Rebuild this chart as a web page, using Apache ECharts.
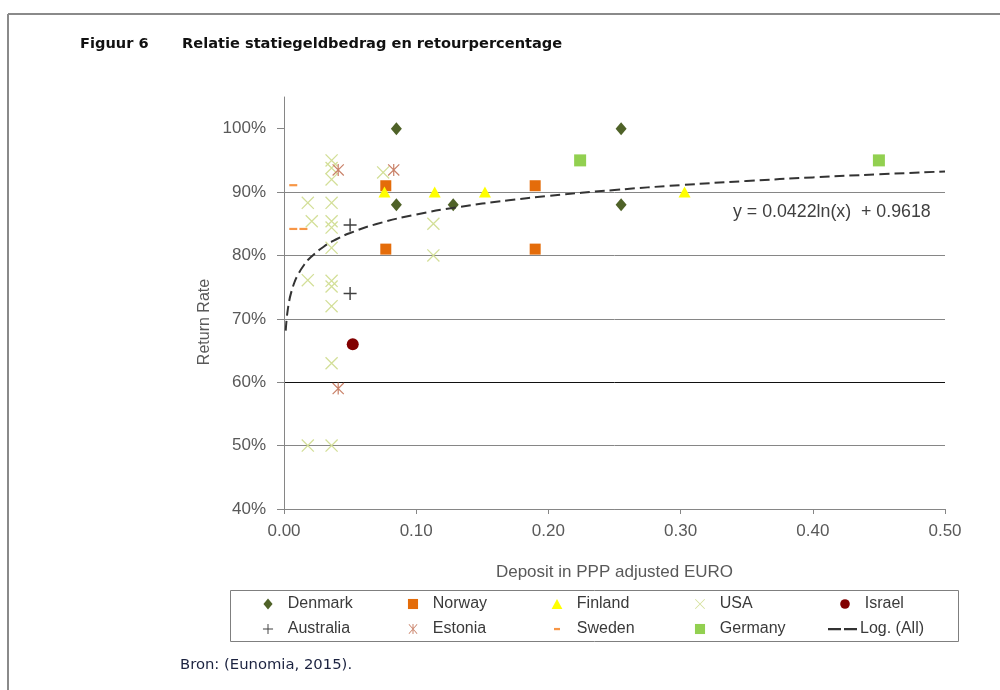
<!DOCTYPE html>
<html>
<head>
<meta charset="utf-8">
<script src="https://cdn.jsdelivr.net/npm/echarts@6/dist/echarts.min.js"></script>
<style>
html,body{margin:0;padding:0;background:#fff;}
#chart{width:1000px;height:690px;}
</style>
</head>
<body>
<div id="chart"></div>
<script>
// ---- data ----
const denmark   = [[0.085,1.00],[0.085,0.88],[0.128,0.88],[0.255,1.00],[0.255,0.88]];
const norway    = [[0.077,0.91],[0.077,0.81],[0.190,0.91],[0.190,0.81]];
const finland   = [[0.076,0.90],[0.114,0.90],[0.152,0.90],[0.303,0.90]];
const usa       = [[0.036,0.95],[0.036,0.938],[0.036,0.92],[0.018,0.883],[0.036,0.883],
                   [0.021,0.854],[0.036,0.854],[0.036,0.844],[0.036,0.812],[0.018,0.761],
                   [0.036,0.760],[0.036,0.751],[0.036,0.720],[0.036,0.630],[0.018,0.50],
                   [0.036,0.50],[0.075,0.931],[0.113,0.85],[0.113,0.80]];
const israel    = [[0.052,0.66]];
const australia = [[0.050,0.848],[0.050,0.74]];
const estonia   = [[0.041,0.935],[0.083,0.935],[0.041,0.59]];
const sweden    = [[0.007,0.911],[0.007,0.842],[0.0147,0.842]];
const germany   = [[0.224,0.95],[0.450,0.95]];

// logarithmic trendline as printed on the chart: y = 0.0422 ln(x) + 0.9618
const TREND_A = 0.0422;
const TREND_B = 0.9618;
const TREND_X = [0.0013,0.002,0.003,0.004,0.005,0.0075,0.01,0.015,0.02,0.03,0.04,0.05,0.07,
                 0.1,0.13,0.17,0.2,0.25,0.3,0.35,0.4,0.45,0.5];
const trend = TREND_X.map(x => [x, TREND_A * Math.log(x) + TREND_B]);

const xTicks = ['0.00','0.10','0.20','0.30','0.40','0.50'];
const yTicks = ['40%','50%','60%','70%','80%','90%','100%'];
const seriesNames = ['Denmark','Norway','Finland','USA','Israel','Australia','Estonia','Sweden','Germany','Log. (All)'];

// ---- symbols (plot) ----
const SYM_X    = 'path://M0,0.7L0.7,0L10,9.3L9.3,10Z M9.3,0L10,0.7L0.7,10L0,9.3Z';
const SYM_PLUS = 'path://M4.45,0L5.55,0L5.55,10L4.45,10Z M0,4.45L10,4.45L10,5.55L0,5.55Z';
const SYM_AST  = 'path://M0,0.7L0.7,0L10,9.3L9.3,10Z M9.3,0L10,0.7L0.7,10L0,9.3Z M4.5,0L5.5,0L5.5,10L4.5,10Z';
const SYM_DASH = 'path://M0,0M10,10M1,4L9,4L9,6.2L1,6.2Z';

// ---- legend icons (28x10 boxes, shape centred) ----
const P = 'path://M0,0M28,10';
const LEG_ICONS = [
  P + 'M14,0.5L17.8,5L14,9.5L10.2,5Z',
  P + 'M9.8,0.8L18.2,0.8L18.2,9.2L9.8,9.2Z',
  P + 'M14,0.8L18.5,9.2L9.5,9.2Z',
  P + 'M9.8,1.3L10.3,0.8L18.2,8.7L17.7,9.2Z M17.7,0.8L18.2,1.3L10.3,9.2L9.8,8.7Z',
  P + 'M10,5A4,4,0,1,1,18,5A4,4,0,1,1,10,5Z',
  P + 'M13.6,0.8L14.4,0.8L14.4,9.2L13.6,9.2Z M9.8,4.6L18.2,4.6L18.2,5.4L9.8,5.4Z',
  P + 'M10.3,1.3L10.8,0.8L17.7,8.7L17.2,9.2Z M17.2,0.8L17.7,1.3L10.8,9.2L10.3,8.7Z M13.6,0.8L14.4,0.8L14.4,9.2L13.6,9.2Z',
  P + 'M11.5,4.1L16.5,4.1L16.5,6L11.5,6Z',
  P + 'M9.8,0.8L18.2,0.8L18.2,9.2L9.8,9.2Z',
  'path://M0,0M30,10M0,4L13,4L13,6.2L0,6.2Z M16,4L29,4L29,6.2L16,6.2Z'
];
const LEG_CX = [268, 413, 557, 700, 845, 268, 413, 557, 700, 843];
const LEG_CY = [603, 603, 603, 603, 603, 628, 628, 628, 628, 628];

const axisFont = 'Liberation Sans, Arial, sans-serif';
const legendText = {fontFamily: axisFont, fontSize: 16, color: '#3a3a3a'};

const legends = seriesNames.map((name, i) => {
  const h = i === 9 ? 10 : 12;
  const w = i === 9 ? 30 : 33.6;
  return {
    orient: 'horizontal', left: LEG_CX[i] - w / 2, top: LEG_CY[i] - 7,
    itemWidth: w, itemHeight: h, itemGap: 0, padding: 0,
    itemStyle: {borderWidth: 0},
    textStyle: Object.assign({}, legendText, {padding: [0, 0, 0, i === 9 ? -3 : -2]}),
    data: [{name: name, icon: LEG_ICONS[i]}]
  };
});

const chart = echarts.init(document.getElementById('chart'), null, {renderer:'canvas'});

chart.setOption({
  backgroundColor: '#fff',
  animation: false,
  grid: {left: 284, right: 55, top: 97, bottom: 181, containLabel: false},
  xAxis: {
    type: 'value', min: 0, max: 0.5, interval: 0.1,
    axisLine: {lineStyle: {color: '#868686', width: 1}},
    axisTick: {show: true, inside: false, length: 5, lineStyle: {color: '#868686'}},
    axisLabel: {margin: 14, fontFamily: axisFont, fontSize: 17, color: '#595959',
      formatter: v => xTicks[Math.round(v * 10)] || ''},
    splitLine: {show: false},
    name: 'Deposit in PPP adjusted EURO', nameLocation: 'middle', nameGap: 55,
    nameTextStyle: {fontFamily: axisFont, fontSize: 17, color: '#595959'}
  },
  yAxis: {
    type: 'value', min: 0.4, max: 1.05, interval: 0.1,
    axisLine: {show: true, lineStyle: {color: '#868686', width: 1}},
    axisTick: {show: true, inside: false, length: 7, lineStyle: {color: '#868686'},
      customValues: [0.4,0.5,0.6,0.7,0.8,0.9,1.0]},
    axisLabel: {margin: 18, fontFamily: axisFont, fontSize: 17, color: '#595959',
      formatter: v => (v > 1.001 ? '' : (yTicks[Math.round((v - 0.4) * 10)] || ''))},
    splitLine: {show: true, showMaxLine: false,
      lineStyle: {width: 1, color: ['#868686','#868686','#111111','#868686','#868686','#868686','#868686','#868686']}}
  },
  legend: legends,
  series: [
    {name: 'Denmark', type: 'scatter', data: denmark, symbol: 'diamond', symbolSize: [11,13],
     itemStyle: {color: '#4f6228', opacity: 1}},
    {name: 'Norway', type: 'scatter', data: norway, symbol: 'rect', symbolSize: 11,
     itemStyle: {color: '#e46c0a', opacity: 1}},
    {name: 'Finland', type: 'scatter', data: finland, symbol: 'triangle', symbolSize: [12,11],
     itemStyle: {color: '#ffff00', opacity: 1}},
    {name: 'USA', type: 'scatter', data: usa, symbol: SYM_X, symbolSize: 13,
     itemStyle: {color: '#d3df98', opacity: 1}},
    {name: 'Israel', type: 'scatter', data: israel, symbol: 'circle', symbolSize: 12,
     itemStyle: {color: '#820000', opacity: 1}},
    {name: 'Australia', type: 'scatter', data: australia, symbol: SYM_PLUS, symbolSize: 13,
     itemStyle: {color: '#404040', opacity: 1}},
    {name: 'Estonia', type: 'scatter', data: estonia, symbol: SYM_AST, symbolSize: 12,
     itemStyle: {color: '#c98168', opacity: 1}},
    {name: 'Sweden', type: 'scatter', data: sweden, symbol: SYM_DASH, symbolSize: 10,
     itemStyle: {color: '#f79646', opacity: 1}},
    {name: 'Germany', type: 'scatter', data: germany, symbol: 'rect', symbolSize: 12,
     itemStyle: {color: '#92d050', opacity: 1}},
    {name: 'Log. (All)', type: 'line', data: trend, smooth: true, showSymbol: false, symbol: 'none',
     lineStyle: {color: '#333333', width: 2, type: [10, 5]}, itemStyle: {color: '#333333'}, z: 5}
  ],
  graphic: [
    {type: 'line', shape: {x1: 8, y1: 14, x2: 1000, y2: 14}, style: {stroke: '#8a8a8a', lineWidth: 2}, silent: true},
    {type: 'line', shape: {x1: 8, y1: 14, x2: 8, y2: 690}, style: {stroke: '#8a8a8a', lineWidth: 2}, silent: true},
    {type: 'text', left: 80, top: 37, style: {text: 'Figuur 6', fontFamily: 'DejaVu Sans', fontWeight: 'bold', fontSize: 14.6, fill: '#111'}},
    {type: 'text', left: 182, top: 37, style: {text: 'Relatie statiegeldbedrag en retourpercentage', fontFamily: 'DejaVu Sans', fontWeight: 'bold', fontSize: 14.6, fill: '#111'}},
    {type: 'text', left: 180, top: 658, style: {text: 'Bron: (Eunomia, 2015).', fontFamily: 'DejaVu Sans', fontSize: 14.8, fill: '#1c2340'}},
    {type: 'text', left: 733, top: 203, style: {text: 'y = 0.0422ln(x)  + 0.9618', fontFamily: axisFont, fontSize: 17.8, fill: '#404040'}},
    {type: 'text', x: 205, y: 322, rotation: Math.PI / 2, style: {text: 'Return Rate', fontFamily: axisFont, fontSize: 16, fill: '#595959', align: 'center', verticalAlign: 'middle'}},
    {type: 'rect', shape: {x: 230.5, y: 590.5, width: 728, height: 51}, style: {fill: 'none', stroke: '#7f7f7f', lineWidth: 1}, silent: true, z: -1}
  ]
});
</script>
</body>
</html>
